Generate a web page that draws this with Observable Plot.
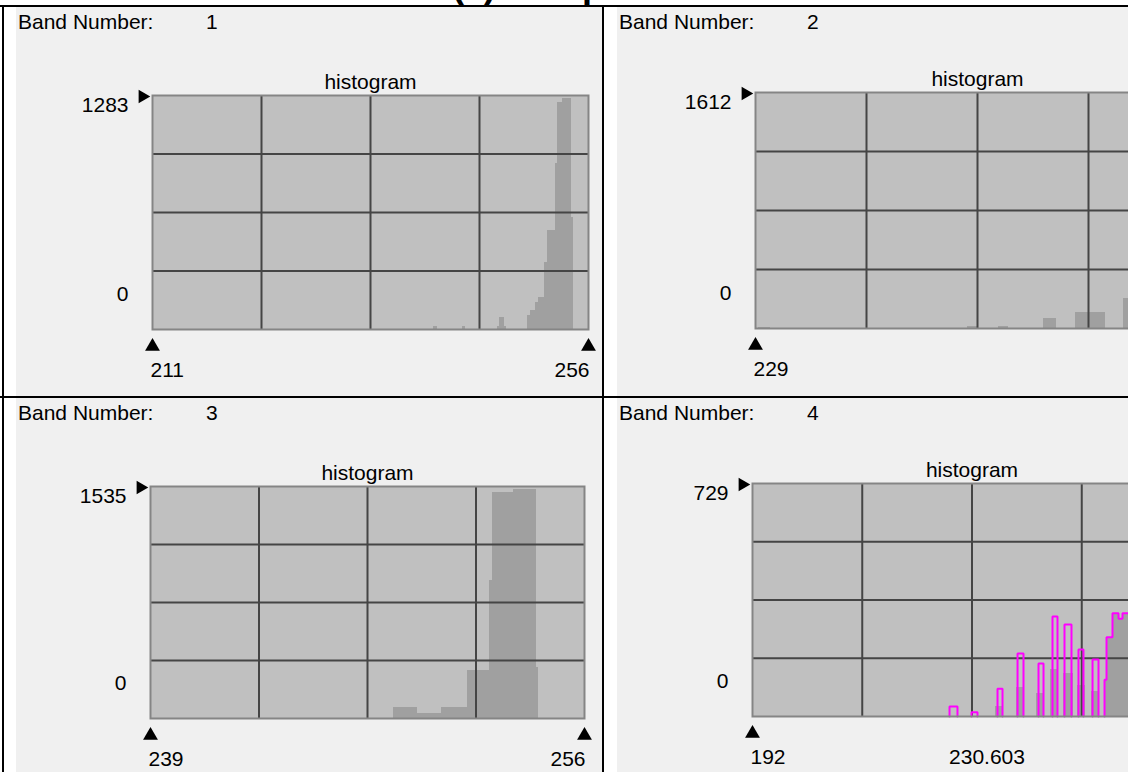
<!DOCTYPE html>
<html><head><meta charset="utf-8">
<script src="https://cdn.jsdelivr.net/npm/d3@7"></script>
<script src="https://cdn.jsdelivr.net/npm/@observablehq/plot@0.6"></script>
<style>
html,body{margin:0;padding:0;background:#fff;}
body{width:1128px;height:772px;overflow:hidden;position:relative;font-family:"Liberation Sans",Arial,sans-serif;}
.title{position:absolute;left:452px;top:-33px;font:bold 36px/36px "Liberation Sans",Arial,sans-serif;white-space:nowrap;color:#000;}
.line{position:absolute;background:#000;}
.panel{position:absolute;background:#f0f0f0;overflow:hidden;}
.band{position:absolute;left:2px;top:3px;font-size:21px;color:#000;white-space:nowrap;}
.band span{position:absolute;left:188px;}
.panel svg{position:absolute;left:0;top:0;}
</style></head><body>
<div class="title">(a) Sample</div>
<script>
// ---- data ----
const bandNumbers = [1, 2, 3, 4];
const xMin = [211, 229, 239, 192];
const xMax = [256, 256, 256, 269.206];
const yMax = [1283, 1612, 1535, 729];
const midLabels = [null, null, null, "230.603"];
const midValues = [null, null, null, 230.603];

// Band 1 histogram bins
const band1Lo =    [240.0, 243.0, 246.6, 246.8, 247.3, 249.67, 250.0, 250.53, 250.87, 251.46, 251.74, 252.59, 252.77, 253.29, 254.25];
const band1Hi =    [240.4, 243.3, 246.8, 247.3, 247.5, 250.0, 250.53, 250.87, 251.46, 251.74, 252.59, 252.77, 253.29, 254.25, 254.42];
const band1Count = [16, 16, 16, 66, 16, 77, 104, 150, 177, 369, 543, 910, 1246, 1265, 616];

// Band 2 histogram bins
const band2Lo =    [229.18, 241.89, 243.77, 246.51, 248.46, 251.38];
const band2Hi =    [229.91, 242.50, 244.38, 247.30, 250.28, 252.41];
const band2Count = [10, 14, 14, 70, 111, 203];

// Band 3 histogram bins
const band3Lo =    [248.52, 249.46, 250.40, 251.43, 252.29, 252.38, 253.23, 254.12];
const band3Hi =    [249.46, 250.40, 251.43, 252.29, 252.38, 253.23, 254.12, 254.21];
const band3Count = [73, 33, 73, 318, 913, 1497, 1515, 340];

// Band 4 histogram bins (grey fill)
const band4Lo =    [234.74, 238.43, 241.95, 244.41, 246.64, 249.10, 251.56, 253.91, 254.26, 255.31, 256.37, 257.07];
const band4Hi =    [236.14, 239.84, 243.35, 245.87, 248.40, 250.57, 253.08, 254.26, 255.31, 256.37, 257.07, 259.36];
const band4Count = [31, 91, 72, 147, 135, 97, 78, 115, 248, 323, 306, 323];

// Band 4 second histogram (magenta outline)
const band4bLo =    [226.65, 230.52, 235.09, 238.61, 242.30, 244.76, 246.87, 249.33, 251.80, 253.91, 254.26, 255.31, 256.37, 257.07];
const band4bHi =    [228.05, 231.57, 235.97, 239.66, 243.18, 245.64, 248.10, 250.21, 252.85, 254.26, 255.31, 256.37, 257.07, 259.36];
const band4bCount = [31, 13, 87, 197, 166, 313, 288, 210, 178, 115, 248, 323, 306, 323];

const histLo = [band1Lo, band2Lo, band3Lo, band4Lo];
const histHi = [band1Hi, band2Hi, band3Hi, band4Hi];
const histCount = [band1Count, band2Count, band3Count, band4Count];

// ---- layout ----
const panelBoxes = [
  {left: 16, top: 7, w: 586, h: 389},
  {left: 617, top: 7, w: 586, h: 389},
  {left: 16, top: 398, w: 586, h: 390},
  {left: 617, top: 398, w: 586, h: 390}
];
const frames = [
  {l: 136, r: 572, t: 88, b: 322},
  {l: 138, r: 582, t: 85, b: 321},
  {l: 134, r: 568, t: 88, b: 320},
  {l: 135, r: 574, t: 85, b: 318}
];
const showMax = [true, false, true, false];
const SVG_W = 586, SVG_H = 390;

function line(l, t, w, h) {
  const d = document.createElement("div");
  d.className = "line";
  Object.assign(d.style, {left: l + "px", top: t + "px", width: w + "px", height: h + "px"});
  document.body.appendChild(d);
}

function magentaPoints(lo, hi, cnt) {
  const pts = [];
  let g = -1, prevHi = null;
  lo.forEach((a, i) => {
    if (prevHi === null || Math.abs(a - prevHi) > 1e-9) {
      if (prevHi !== null) pts.push({x: prevHi, y: 0, g});
      g++;
      pts.push({x: a, y: 0, g});
    }
    pts.push({x: a, y: cnt[i], g});
    pts.push({x: hi[i], y: cnt[i], g});
    prevHi = hi[i];
  });
  pts.push({x: prevHi, y: 0, g});
  return pts;
}

bandNumbers.forEach((band, i) => {
  const box = panelBoxes[i], fr = frames[i];
  const panel = document.createElement("div");
  panel.className = "panel";
  Object.assign(panel.style, {left: box.left + "px", top: box.top + "px", width: box.w + "px", height: box.h + "px"});
  const lab = document.createElement("div");
  lab.className = "band";
  lab.innerHTML = `Band Number:<span>${band}</span>`;
  panel.appendChild(lab);

  const x0 = xMin[i], x3 = xMax[i], ym = yMax[i];
  const bins = histLo[i].map((d, k) => ({x1: d, x2: histHi[i][k], y: histCount[i][k]}));
  const xq = [1, 2, 3].map(k => x0 + k * (x3 - x0) / 4);
  const yq = [1, 2, 3].map(k => k * ym / 4);
  const fs = 21;

  const marks = [
    Plot.frame({fill: "#c0c0c0"}),
    Plot.rectY(bins, {x1: "x1", x2: "x2", y: "y", fill: "#a0a0a0", shapeRendering: "crispEdges"}),
    Plot.ruleX(xq, {stroke: "#454545", strokeWidth: 2}),
    Plot.ruleY(yq, {stroke: "#454545", strokeWidth: 2})
  ];
  if (band === 4) {
    marks.push(Plot.line(magentaPoints(band4bLo, band4bHi, band4bCount),
      {x: "x", y: "y", z: "g", stroke: "#ff00ff", strokeWidth: 2, strokeLinejoin: "miter"}));
  }
  marks.push(
    Plot.frame({stroke: "#858585", strokeWidth: 2}),
    Plot.text(["histogram"], {frameAnchor: "top", lineAnchor: "bottom", dy: -7, fontSize: fs, fill: "#000"}),
    Plot.text([{x: x0, y: ym, t: String(ym)}], {x: "x", y: "y", text: "t", textAnchor: "end", dx: -24, dy: 10, fontSize: fs, fill: "#000"}),
    Plot.text([{x: x0, y: 0, t: "0"}], {x: "x", y: "y", text: "t", textAnchor: "end", dx: -24, dy: -35, fontSize: fs, fill: "#000"}),
    Plot.dot([{x: x0, y: ym}], {x: "x", y: "y", symbol: "triangle", rotate: 90, r: 5, fill: "#000", stroke: "none", dx: -10, dy: 1}),
    Plot.dot([{x: x0, y: 0}], {x: "x", y: "y", symbol: "triangle", r: 5.5, fill: "#000", stroke: "none", dy: 17}),
    Plot.text([{x: x0, y: 0, t: String(x0)}], {x: "x", y: "y", text: "t", textAnchor: "start", dx: -2, dy: 41, fontSize: fs, fill: "#000"})
  );
  if (showMax[i]) {
    marks.push(
      Plot.dot([{x: x3, y: 0}], {x: "x", y: "y", symbol: "triangle", r: 5.5, fill: "#000", stroke: "none", dy: 17}),
      Plot.text([{x: x3, y: 0, t: String(x3)}], {x: "x", y: "y", text: "t", textAnchor: "end", dx: 1, dy: 41, fontSize: fs, fill: "#000"})
    );
  }
  if (midLabels[i]) {
    marks.push(Plot.text([{x: midValues[i], y: 0, t: midLabels[i]}], {x: "x", y: "y", text: "t", textAnchor: "middle", dx: 15, dy: 41, fontSize: fs, fill: "#000"}));
  }

  const svg = Plot.plot({
    width: SVG_W, height: SVG_H,
    marginLeft: fr.l, marginRight: SVG_W - fr.r, marginTop: fr.t, marginBottom: SVG_H - fr.b,
    x: {domain: [x0, x3], axis: null},
    y: {domain: [0, ym], axis: null},
    style: {background: "transparent", overflow: "visible", fontFamily: "'Liberation Sans', Arial, sans-serif", maxWidth: "none"},
    marks
  });
  panel.appendChild(svg);
  document.body.appendChild(panel);
});

line(0, 5, 1128, 2);     // top border
line(2, 5, 2, 767);      // left border
line(602, 5, 2, 767);    // middle border
line(0, 396, 1128, 2);   // row separator
</script>
</body></html>
